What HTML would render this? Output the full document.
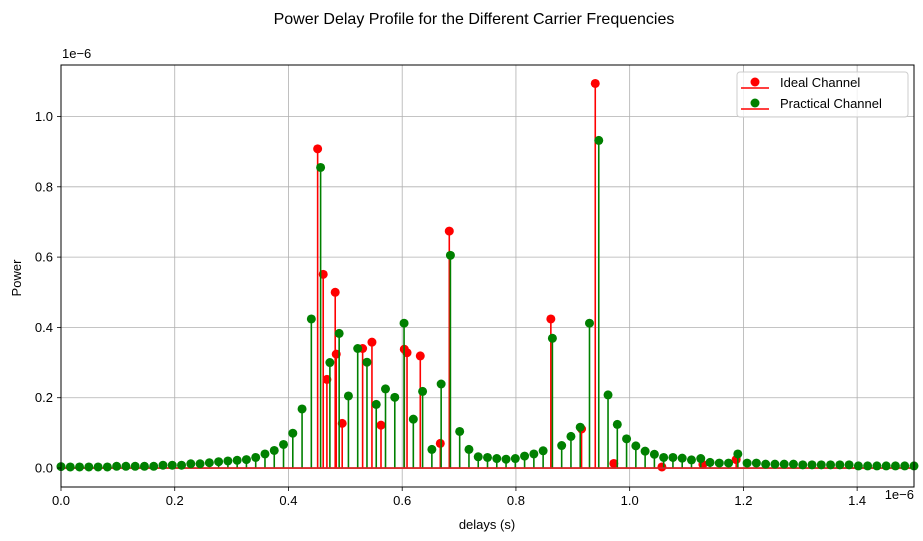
<!DOCTYPE html>
<html><head><meta charset="utf-8"><style>
html,body{margin:0;padding:0;background:#fff;}
svg{display:block;font-family:"Liberation Sans","DejaVu Sans",sans-serif;}
</style></head><body>
<svg id="chart" width="923" height="541" viewBox="0 0 923 541">
<text x="474" y="24" text-anchor="middle" font-size="16" fill="#000">Power Delay Profile for the Different Carrier Frequencies</text>
<g id="grid"></g>
<g id="marks"></g>
<rect x="61" y="65" width="853" height="422" fill="none" stroke="#000" stroke-width="1"/>
<g id="axes"></g>
<text x="62" y="58" font-size="13">1e−6</text>
<text x="914" y="499" font-size="13" text-anchor="end">1e−6</text>
<text x="487" y="529" font-size="13" text-anchor="middle">delays (s)</text>
<text x="21" y="278" font-size="13" text-anchor="middle" transform="rotate(-90 21 278)">Power</text>
<g>
<rect x="737" y="72" width="171" height="45" rx="3" fill="#fff" fill-opacity="0.8" stroke="#ccc"/>
<g>
<line x1="741" y1="88" x2="769" y2="88" stroke="#ff0000" stroke-width="1.5"/>
<circle cx="755" cy="82" r="4.5" fill="#ff0000"/>
<text x="780" y="87" font-size="13">Ideal Channel</text>
</g>
<g>
<line x1="741" y1="109" x2="769" y2="109" stroke="#ff0000" stroke-width="1.5"/>
<circle cx="755" cy="103" r="4.5" fill="#008000"/>
<text x="780" y="108" font-size="13">Practical Channel</text>
</g>
</g>
</svg>
<script>
// Data (delays in units of 1e-6 s, power in units of 1e-6)
const idealDelays = [0.4513,0.4611,0.4676,0.4822,0.4840,0.4945,0.5304,0.5468,0.5627,0.6037,0.6085,0.6318,0.6670,0.6828,0.8614,0.9154,0.9395,0.9721,1.0567,1.1288,1.1873];
const idealPower  = [0.908,0.551,0.252,0.500,0.324,0.127,0.340,0.358,0.122,0.338,0.328,0.319,0.070,0.674,0.424,0.111,1.094,0.013,0.003,0.010,0.024];
const practicalStep = 1.5/92;
const practicalPower = [0.004,0.003,0.003,0.003,0.003,0.003,0.005,0.005,0.005,0.005,
 0.005,0.008,0.008,0.008,0.012,0.012,0.015,0.018,0.020,0.022,
 0.024,0.030,0.040,0.050,0.067,0.099,0.168,0.424,0.855,0.300,
 0.383,0.205,0.340,0.301,0.181,0.225,0.201,0.412,0.139,0.218,
 0.053,0.239,0.605,0.104,0.053,0.032,0.030,0.027,0.025,0.027,
 0.034,0.040,0.049,0.369,0.064,0.090,0.116,0.412,0.932,0.208,
 0.124,0.083,0.063,0.048,0.039,0.030,0.030,0.028,0.023,0.027,
 0.016,0.014,0.014,0.040,0.014,0.014,0.011,0.011,0.011,0.011,
 0.009,0.009,0.009,0.009,0.009,0.009,0.006,0.006,0.006,0.006,
 0.006,0.006,0.006];
const xTicks = [0,0.2,0.4,0.6,0.8,1.0,1.2,1.4];
const xTickLabels = ["0.0","0.2","0.4","0.6","0.8","1.0","1.2","1.4"];
const yTicks = [0,0.2,0.4,0.6,0.8,1.0];
const yTickLabels = ["0.0","0.2","0.4","0.6","0.8","1.0"];

const NS="http://www.w3.org/2000/svg";
const X0=61,X1=914,Y0=487,Y1=65, xmin=0,xmax=1.5,ymin=-0.054,ymax=1.1465;
function sx(v){return X0+(v-xmin)/(xmax-xmin)*(X1-X0);}
function sy(v){return Y0-(v-ymin)/(ymax-ymin)*(Y0-Y1);}
function mk(tag,attrs,parent){const e=document.createElementNS(NS,tag);for(const k in attrs)e.setAttribute(k,attrs[k]);parent.appendChild(e);return e;}
const grid=document.getElementById('grid'),axes=document.getElementById('axes'),marks=document.getElementById('marks');

xTicks.forEach((t,i)=>{
  const x=sx(t);
  const g=mk('line',{x1:x,x2:x,y1:Y1,y2:Y0,stroke:'#b0b0b0','stroke-width':0.8},grid);
  
  
  const tk=mk('line',{x1:x,x2:x,y1:Y0,y2:Y0+4,stroke:'#000','stroke-width':0.8},axes);
  
  
  const tx=mk('text',{x:x,y:Y0+18,'font-size':13,'text-anchor':'middle'},axes);
  tx.textContent=xTickLabels[i];
  
  
});
yTicks.forEach((t,i)=>{
  const y=sy(t);
  const g=mk('line',{x1:X0,x2:X1,y1:y,y2:y,stroke:'#b0b0b0','stroke-width':0.8},grid);
  
  
  const tk=mk('line',{x1:X0-4,x2:X0,y1:y,y2:y,stroke:'#000','stroke-width':0.8},axes);
  
  
  const tx=mk('text',{x:X0-8,y:y+4.5,'font-size':13,'text-anchor':'end'},axes);
  tx.textContent=yTickLabels[i];
  
  
});

function drawStems(xs,ys,color,name){
  const g=mk('g',{},marks);
  
  
  xs.forEach((xv,i)=>{
    const l=mk('line',{x1:sx(xv),x2:sx(xv),y1:sy(0),y2:sy(ys[i]),stroke:color,'stroke-width':1.6},g);
    
    
  });
  const b=mk('line',{x1:X0,x2:X1,y1:sy(0),y2:sy(0),stroke:'#d62728','stroke-width':1.6},g);
  
  
  xs.forEach((xv,i)=>{
    const c=mk('circle',{cx:sx(xv),cy:sy(ys[i]),r:4.5,fill:color},g);
    
    
  });
}
drawStems(idealDelays,idealPower,'#ff0000','ideal');
const practicalDelays=practicalPower.map((_,i)=>i*practicalStep);
drawStems(practicalDelays,practicalPower,'#008000','practical');
</script>
</body></html>
